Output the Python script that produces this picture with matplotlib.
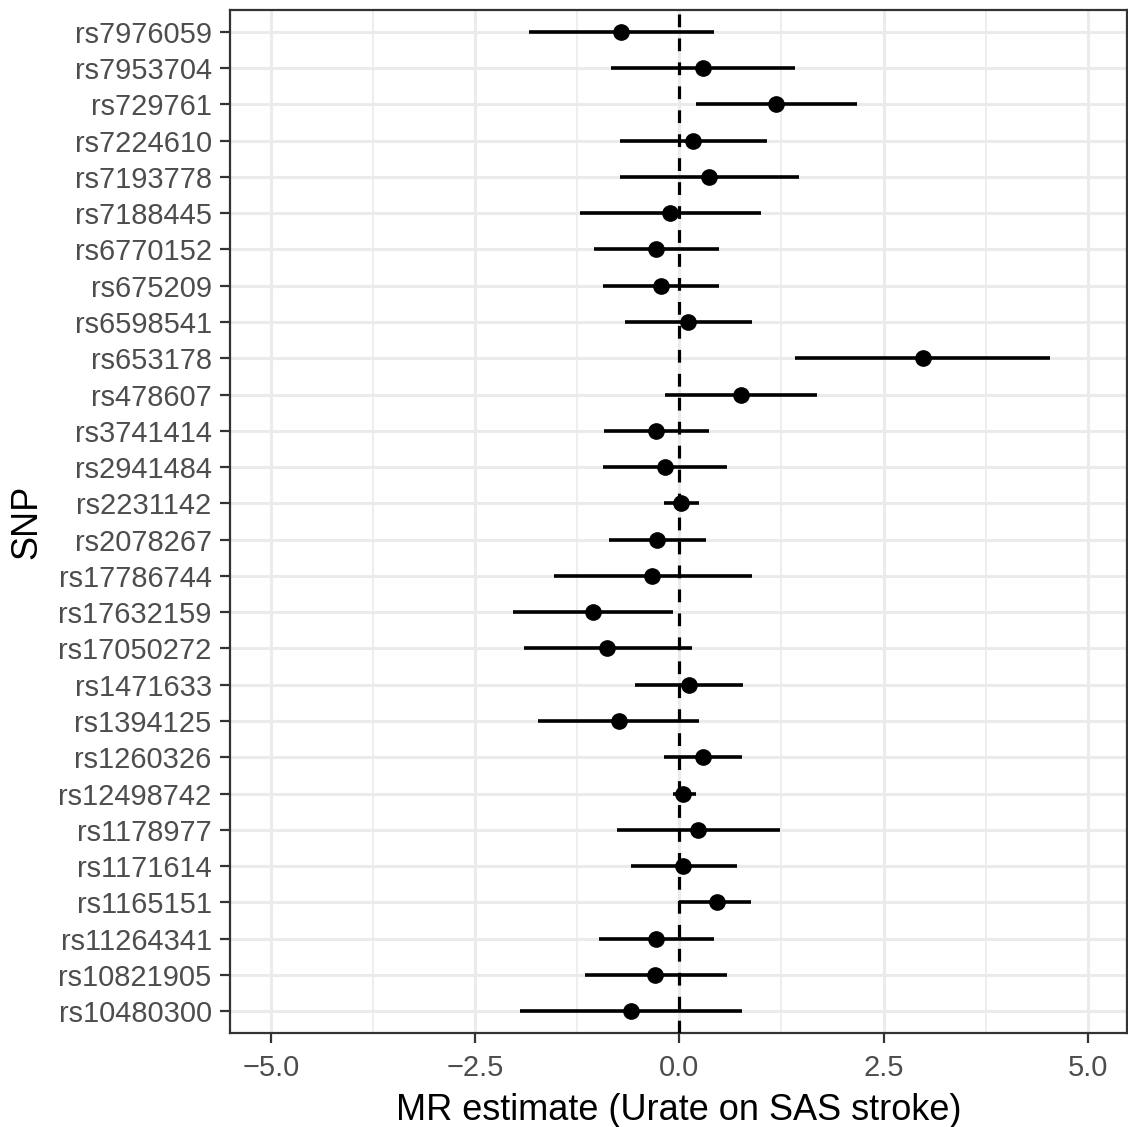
import matplotlib
matplotlib.use("Agg")
import matplotlib.pyplot as plt
import numpy as np

plt.rcParams["font.family"] = ["Liberation Sans", "DejaVu Sans"]

# per-SNP Wald ratio estimates with 95% CI, listed top to bottom
snps = ["rs7976059", "rs7953704", "rs729761", "rs7224610", "rs7193778", "rs7188445",
        "rs6770152", "rs675209", "rs6598541", "rs653178", "rs478607", "rs3741414",
        "rs2941484", "rs2231142", "rs2078267", "rs17786744", "rs17632159", "rs17050272",
        "rs1471633", "rs1394125", "rs1260326", "rs12498742", "rs1178977", "rs1171614",
        "rs1165151", "rs11264341", "rs10821905", "rs10480300"]
estimate = [-0.71, 0.29, 1.18, 0.17, 0.36, -0.11, -0.29, -0.23, 0.11, 2.98,
            0.75, -0.29, -0.18, 0.02, -0.27, -0.33, -1.06, -0.88, 0.12, -0.74,
            0.29, 0.05, 0.23, 0.05, 0.46, -0.29, -0.30, -0.59]
ci_low = [-1.84, -0.84, 0.20, -0.72, -0.73, -1.22, -1.05, -0.93, -0.67, 1.42,
          -0.18, -0.92, -0.93, -0.19, -0.86, -1.53, -2.04, -1.90, -0.54, -1.73,
          -0.19, -0.08, -0.76, -0.59, 0.00, -0.98, -1.16, -1.95]
ci_high = [0.42, 1.42, 2.18, 1.07, 1.46, 1.00, 0.48, 0.49, 0.89, 4.54,
           1.69, 0.36, 0.58, 0.24, 0.33, 0.89, -0.08, 0.15, 0.78, 0.24,
           0.77, 0.20, 1.23, 0.70, 0.88, 0.42, 0.58, 0.77]
xticks = [-5.0, -2.5, 0.0, 2.5, 5.0]
xlabels = ["\u22125.0", "\u22122.5", "0.0", "2.5", "5.0"]

W, H = 1128, 1127
fig = plt.figure(figsize=(W / 100, H / 100), dpi=100)
ax = fig.add_axes([230 / W, (H - 1033) / H, (1127 - 230) / W, (1033 - 10) / H])

n = len(snps)
ypos = np.arange(n)[::-1] + 1

ax.set_xlim(-5.5, 5.48)
ax.set_ylim(0.4, n + 0.6)

# grid: major + minor, theme_bw look
for x in [-3.75, -1.25, 1.25, 3.75]:
    ax.axvline(x, color="#EBEBEB", lw=1.2, zorder=0)
for x in xticks:
    ax.axvline(x, color="#EBEBEB", lw=2.2, zorder=0)
for y in ypos:
    ax.axhline(y, color="#EBEBEB", lw=2.2, zorder=0)

ax.hlines(ypos, ci_low, ci_high, color="black", lw=2.6, zorder=2)
ax.axvline(0, color="black", lw=2.3, linestyle=(0, (4, 3.5)), zorder=3)
ax.plot(estimate, ypos, "o", color="black", ms=11, zorder=4)

ax.set_yticks(ypos)
ax.set_yticklabels(snps)
ax.set_xticks(xticks)
ax.set_xticklabels(xlabels)
ax.tick_params(axis="both", labelsize=20.9, labelcolor="#4D4D4D", color="#333333",
               length=7.2, width=1.6)
ax.tick_params(axis="x", pad=8)
ax.tick_params(axis="y", pad=6)

for sp in ax.spines.values():
    sp.set_color("#333333")
    sp.set_linewidth(1.6)

ax.set_xlabel("MR estimate (Urate on SAS stroke)", fontsize=26, labelpad=8)
ax.set_ylabel("SNP", fontsize=26, labelpad=10)

fig.savefig("out.png", dpi=100)
